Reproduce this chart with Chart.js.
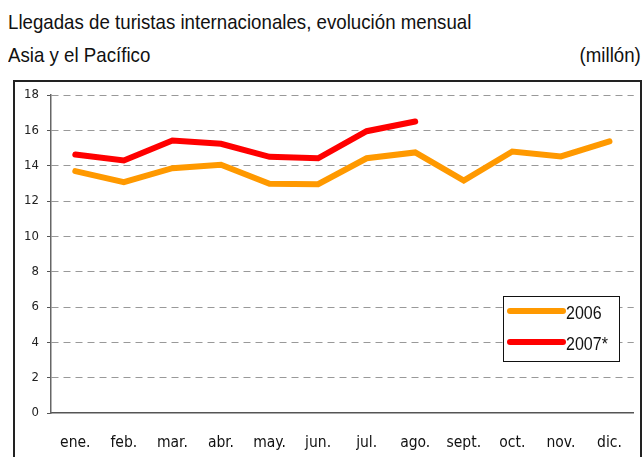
<!DOCTYPE html>
<html>
<head>
<meta charset="utf-8">
<script src="https://cdn.jsdelivr.net/npm/chart.js@4/dist/chart.umd.min.js"></script>
<style>
  html, body { margin:0; padding:0; background:#fff; width:643px; height:457px; overflow:hidden; }
  body { position:relative; color:#111; }
  .t { position:absolute; white-space:nowrap; font-family:"Liberation Sans", Arial, sans-serif; font-size:21px; line-height:1; transform:scaleX(0.89); transform-origin:left top; }
  .r { transform-origin:right top; }
  #frame { position:absolute; left:13px; top:80px; width:625px; height:400px; border:2px solid #222; }
  #wrap { position:absolute; left:0; top:0; width:643px; height:457px; }
</style>
</head>
<body>
<div class="t" style="left:8px; top:11px;">Llegadas de turistas internacionales, evolución mensual</div>
<div class="t" style="left:8px; top:44px;">Asia y el Pacífico</div>
<div class="t r" style="right:2px; top:44px;">(millón)</div>
<div id="frame"></div>
<div id="wrap"><canvas id="c" width="643" height="457"></canvas></div>
<script>
const categories = ["ene.","feb.","mar.","abr.","may.","jun.","jul.","ago.","sept.","oct.","nov.","dic."];
const series2006 = [13.69, 13.07, 13.86, 14.05, 12.98, 12.95, 14.42, 14.75, 13.16, 14.80, 14.52, 15.38];
const series2007 = [14.63, 14.29, 15.42, 15.24, 14.50, 14.42, 15.95, 16.50, null, null, null, null];
const seriesLabels = ["2006", "2007*"];
const yTicks = [0, 2, 4, 6, 8, 10, 12, 14, 16, 18];

const FONT = '"DejaVu Sans Condensed","Liberation Sans Narrow",sans-serif';
const LEGFONT = '"Liberation Sans", Arial, sans-serif';

const legendPlugin = {
  id: 'boxLegend',
  afterDraw(chart) {
    const ctx = chart.ctx;
    const x0 = 503.5, y0 = 296.5, w = 116, h = 65;
    ctx.save();
    ctx.fillStyle = '#fff';
    ctx.fillRect(x0, y0, w, h);
    ctx.strokeStyle = '#111';
    ctx.lineWidth = 1;
    ctx.strokeRect(x0, y0, w, h);
    const rows = [311, 342];
    chart.data.datasets.forEach((ds, i) => {
      const y = rows[i];
      ctx.beginPath();
      ctx.lineCap = 'round';
      ctx.lineWidth = 6;
      ctx.strokeStyle = ds.borderColor;
      ctx.moveTo(510, y);
      ctx.lineTo(563, y);
      ctx.stroke();
      ctx.save();
      ctx.translate(566, y + 3);
      ctx.scale(0.89, 1);
      ctx.fillStyle = '#111';
      ctx.font = '18px ' + LEGFONT;
      ctx.textBaseline = 'middle';
      ctx.textAlign = 'left';
      ctx.fillText(ds.label, 0, 0);
      ctx.restore();
    });
    ctx.restore();
  }
};

new Chart(document.getElementById('c'), {
  type: 'line',
  data: {
    labels: categories,
    datasets: [
      { label: seriesLabels[0], data: series2006, borderColor: '#FF9900', backgroundColor: '#FF9900',
        borderWidth: 6, pointRadius: 0, tension: 0, borderCapStyle: 'round', borderJoinStyle: 'miter', spanGaps: false },
      { label: seriesLabels[1], data: series2007, borderColor: '#FF0000', backgroundColor: '#FF0000',
        borderWidth: 6, pointRadius: 0, tension: 0, borderCapStyle: 'round', borderJoinStyle: 'miter', spanGaps: false }
    ]
  },
  options: {
    responsive: false,
    animation: false,
    events: [],
    layout: { padding: { top: 95, right: 3, left: 0, bottom: 0 } },
    plugins: { legend: { display: false }, tooltip: { enabled: false }, title: { display: false } },
    scales: {
      x: {
        offset: true,
        grid: { display: false, drawTicks: false },
        border: { display: true, color: '#555', width: 1.5 },
        ticks: { color: '#111', font: { family: FONT, size: 15.5 }, padding: 21, maxRotation: 0, autoSkip: false },
        afterFit(s) { s.height = 44; }
      },
      y: {
        min: 0, max: 18,
        afterBuildTicks(s) { s.ticks = yTicks.map(v => ({ value: v })); },
        grid: {
          color: ctx => (ctx.tick && ctx.tick.value === 0) ? 'rgba(0,0,0,0)' : '#999',
          tickColor: '#555', tickLength: 4, tickBorderDash: [], lineWidth: 1, drawTicks: true
        },
        border: { display: true, color: '#666', width: 1.5, dash: [7, 5] },
        ticks: { color: '#222', font: { family: FONT, size: 13 }, padding: 8 },
        afterFit(s) { s.width = 51; }
      }
    }
  },
  plugins: [legendPlugin]
});
</script>
</body>
</html>
